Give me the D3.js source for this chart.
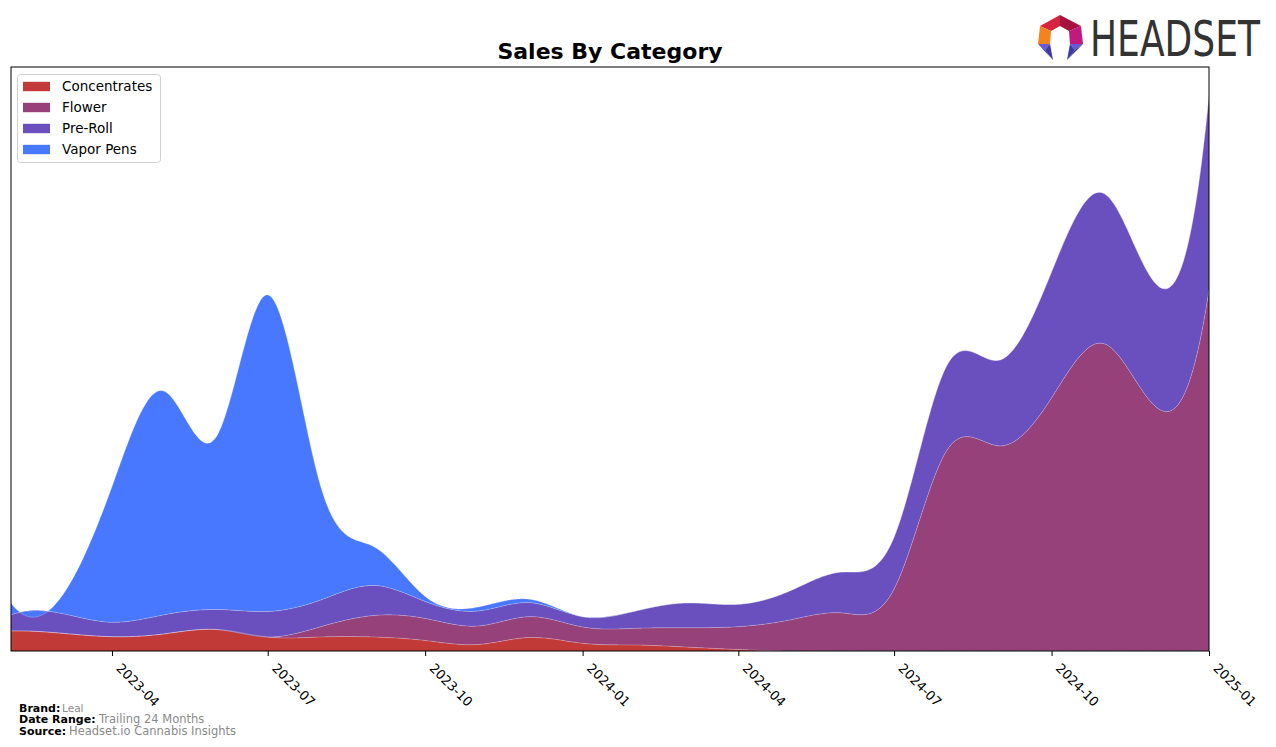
<!DOCTYPE html>
<html>
<head>
<meta charset="utf-8">
<script src="https://cdn.jsdelivr.net/npm/d3@7/dist/d3.min.js"></script>
<style>
  html, body { margin: 0; padding: 0; background: #fff; }
  svg { display: block; }
  text { font-family: "DejaVu Sans", sans-serif; }
</style>
</head>
<body>
<svg id="chart" width="1276" height="747"></svg>
<script>
// ---------- DATA ----------
const months = ["2023-02-01","2023-03-01","2023-04-01","2023-05-01","2023-06-01","2023-07-01",
  "2023-08-01","2023-09-01","2023-10-01","2023-11-01","2023-12-01","2024-01-01",
  "2024-02-01","2024-03-01","2024-04-01","2024-05-01","2024-06-01","2024-07-01",
  "2024-08-01","2024-09-01","2024-10-01","2024-11-01","2024-12-01","2025-01-01"];
const categories = ["Concentrates", "Flower", "Pre-Roll", "Vapor Pens"];
const concentrates = [20, 18, 14.3, 17, 21.5, 14, 14, 14, 10.5, 6.5, 13.5, 7.7, 6, 4, 1.5, 0, 0, 0, 0, 0, 0, 0, 0, 0];
const flower = [0, 0, 0, 0, 0, 0, 10.3, 21.5, 22, 18.5, 20.8, 16.3, 16.7, 19.3, 22.8, 31, 38, 62, 201, 205, 253, 307, 244, 361];
const preRoll = [16, 20, 14.4, 19, 20, 25.5, 26.7, 30, 17, 15, 14, 10.3, 17.3, 24.7, 22.4, 29, 41, 52, 85, 86, 126, 150, 123, 195];
const vaporPens = [12, 13, 135.6, 224, 172.8, 316.5, 113.3, 38.8, 5, 4, 3.4, 0, 0, 0, 0, 0, 0, 0, 0, 0, 0, 0, 0, 0];
const tickLabels = ["2023-04","2023-07","2023-10","2024-01","2024-04","2024-07","2024-10","2025-01"];
const colors = ["#C23A37", "#964179", "#6A4FBE", "#4878FF"];
const brand = "Leal";
const dateRange = "Trailing 24 Months";
const source = "Headset.io Cannabis Insights";

// ---------- SPLINE (not-a-knot cubic) ----------
function solve(A, b) {
  const n = b.length;
  for (let i = 0; i < n; i++) {
    let p = i;
    for (let r = i + 1; r < n; r++) if (Math.abs(A[r][i]) > Math.abs(A[p][i])) p = r;
    [A[i], A[p]] = [A[p], A[i]]; [b[i], b[p]] = [b[p], b[i]];
    for (let r = i + 1; r < n; r++) {
      const f = A[r][i] / A[i][i];
      if (!f) continue;
      for (let c = i; c < n; c++) A[r][c] -= f * A[i][c];
      b[r] -= f * b[i];
    }
  }
  const x = new Array(n).fill(0);
  for (let i = n - 1; i >= 0; i--) {
    let s = b[i];
    for (let c = i + 1; c < n; c++) s -= A[i][c] * x[c];
    x[i] = s / A[i][i];
  }
  return x;
}
function spline(xs, ys) {
  const n = xs.length, h = [];
  for (let i = 0; i < n - 1; i++) h.push(xs[i + 1] - xs[i]);
  const A = Array.from({length: n}, () => new Array(n).fill(0));
  const b = new Array(n).fill(0);
  A[0][0] = h[1]; A[0][1] = -(h[0] + h[1]); A[0][2] = h[0];
  for (let i = 1; i < n - 1; i++) {
    A[i][i - 1] = h[i - 1]; A[i][i] = 2 * (h[i - 1] + h[i]); A[i][i + 1] = h[i];
    b[i] = 6 * ((ys[i + 1] - ys[i]) / h[i] - (ys[i] - ys[i - 1]) / h[i - 1]);
  }
  A[n - 1][n - 3] = h[n - 2]; A[n - 1][n - 2] = -(h[n - 3] + h[n - 2]); A[n - 1][n - 1] = h[n - 3];
  const M = solve(A, b);
  return function(x) {
    let i = 0;
    while (i < n - 2 && x > xs[i + 1]) i++;
    const hi = h[i], a = xs[i + 1] - x, c = x - xs[i];
    return M[i] * a * a * a / (6 * hi) + M[i + 1] * c * c * c / (6 * hi)
      + (ys[i] / hi - M[i] * hi / 6) * a + (ys[i + 1] / hi - M[i + 1] * hi / 6) * c;
  };
}

// ---------- LAYOUT ----------
const svg = d3.select("#chart");
const L = 11, R = 1209, T = 67, B = 651;
const parse = d3.utcParse("%Y-%m-%d");
const dates = months.map(parse);
const x = d3.scaleUtc().domain(d3.extent(dates)).range([L, R]);

const seriesVals = [concentrates, flower, preRoll, vaporPens];
const totals = dates.map((d, i) => d3.sum(seriesVals, s => s[i]));
const y = d3.scaleLinear().domain([0, d3.max(totals) * 1.05]).range([B, T]);

const xsNum = dates.map(d => +d);
const fns = seriesVals.map(s => spline(xsNum, s));
const N = 700;
const t0 = xsNum[0], t1 = xsNum[xsNum.length - 1];
const rows = d3.range(N + 1).map(k => {
  const t = t0 + (t1 - t0) * k / N;
  const row = {date: new Date(t)};
  categories.forEach((c, j) => row[c] = fns[j](t));
  return row;
});
const stacked = d3.stack().keys(categories).offset(d3.stackOffsetNone)(rows);

svg.append("clipPath").attr("id", "clip")
  .append("rect").attr("x", L).attr("y", T).attr("width", R - L).attr("height", B - T);

const g = svg.append("g").attr("clip-path", "url(#clip)");
const area = d3.area().x(d => x(d.data.date)).y0(d => y(d[0])).y1(d => y(d[1]));
const line = d3.line().x(d => x(d.data.date)).y(d => y(d[1]));
g.selectAll("path.layer").data(stacked).join("path")
  .attr("class", "layer")
  .attr("fill", (d, i) => colors[i])
  .attr("d", area);
g.selectAll("path.edge").data(stacked).join("path")
  .attr("class", "edge")
  .attr("fill", "none")
  .attr("stroke", "rgba(255,255,255,0.35)")
  .attr("stroke-width", 0.7)
  .attr("d", line);

// frame
svg.append("rect").attr("x", L).attr("y", T).attr("width", R - L).attr("height", B - T)
  .attr("fill", "none").attr("stroke", "#000").attr("stroke-width", 1);

// x axis
const tickDates = tickLabels.map(s => parse(s + "-01"));
const axis = svg.append("g").attr("transform", `translate(0,${B})`)
  .call(d3.axisBottom(x).tickValues(tickDates).tickFormat(d3.utcFormat("%Y-%m")).tickSize(5).tickSizeOuter(0));
axis.select(".domain").remove();
axis.selectAll(".tick line").attr("stroke", "#000");
axis.selectAll(".tick text")
  .attr("font-family", "DejaVu Sans, sans-serif")
  .attr("font-size", 13)
  .attr("fill", "#000")
  .attr("text-anchor", "start")
  .attr("x", 0).attr("y", 0).attr("dy", 0)
  .attr("transform", "translate(3,18) rotate(45)");

// title
svg.append("text").attr("x", 610).attr("y", 59).attr("text-anchor", "middle")
  .attr("font-size", 22).attr("font-weight", "bold").attr("fill", "#000")
  .text("Sales By Category");

// legend
const lg = svg.append("g");
lg.append("rect").attr("x", 17.5).attr("y", 74.5).attr("width", 143).attr("height", 88)
  .attr("rx", 3).attr("fill", "#fff").attr("fill-opacity", 0.8).attr("stroke", "#d0d0d0");
categories.forEach((c, i) => {
  const cy = 86.5 + i * 21;
  lg.append("rect").attr("x", 23).attr("y", cy - 4.7).attr("width", 27).attr("height", 9.4).attr("fill", colors[i]);
  lg.append("text").attr("x", 62).attr("y", cy).attr("dy", "0.36em")
    .attr("font-size", 13.5).attr("fill", "#000").text(c);
});

// footer
const foot = [
  {label: "Brand:", value: brand, y: 712, vx: 62, vs: 10.5},
  {label: "Date Range:", value: dateRange, y: 723, vx: 99, vs: 11.5},
  {label: "Source:", value: source, y: 734.5, vx: 69, vs: 11.5}
];
foot.forEach(f => {
  svg.append("text").attr("x", 19).attr("y", f.y).attr("font-size", 11).attr("font-weight", "bold")
    .attr("fill", "#000").text(f.label);
  svg.append("text").attr("x", f.vx).attr("y", f.y).attr("font-size", f.vs)
    .attr("fill", "#8a8a8a").text(f.value);
});

// logo
const logo = svg.append("g");
const pieces = [
  {c: "#d5243f", p: [[1060,15],[1040,26],[1051,31],[1060,26]]},
  {c: "#a5143c", p: [[1060,15],[1081,26],[1069,31],[1060,26]]},
  {c: "#f4821f", p: [[1040,26],[1038,44],[1050,44],[1051,31]]},
  {c: "#c0197f", p: [[1081,26],[1083,44],[1070,44],[1069,31]]},
  {c: "#6a5ad6", p: [[1038,44],[1050,44],[1045,50]]},
  {c: "#2f2c8c", p: [[1038,44],[1045,50],[1053,60]]},
  {c: "#3c3aa6", p: [[1050,44],[1045,50],[1053,60]]},
  {c: "#6a5ad6", p: [[1083,44],[1070,44],[1075,50]]},
  {c: "#2f2c8c", p: [[1083,44],[1075,50],[1067,60]]},
  {c: "#3c3aa6", p: [[1070,44],[1075,50],[1067,60]]}
];
pieces.forEach(pc => logo.append("polygon").attr("points", pc.p.map(q => q.join(",")).join(" ")).attr("fill", pc.c));
const word = logo.append("g").attr("transform", "translate(1090,56)");
const wt = word.append("text").attr("x", 0).attr("y", 0).attr("font-family", "Open Sans, sans-serif")
  .attr("font-size", 50).attr("fill", "#333").text("HEADSET");
const w = wt.node().getComputedTextLength();
word.attr("transform", `translate(1090,56) scale(${170 / w},1)`);
</script>
</body>
</html>
